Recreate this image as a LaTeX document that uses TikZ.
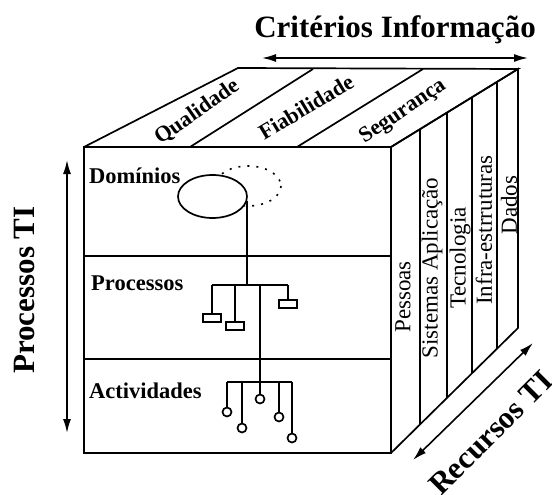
\documentclass[tikz,border=0pt]{standalone}
\usepackage{fontspec}
\setmainfont{Liberation Serif}
\usetikzlibrary{arrows.meta,calc,shapes.geometric}

\tikzset{
  edge/.style={line width=1.7pt},
  band/.style={line width=2.3pt},
  dbl/.style={line width=1.6pt, arrows={Latex[length=14pt,width=8pt]-Latex[length=14pt,width=8pt]}},
  lbl/.style={font=\bfseries\fontsize{22.5}{24}\selectfont, inner sep=0pt, anchor=west},
  big/.style={font=\bfseries\fontsize{31}{33}\selectfont, inner sep=0pt},
  toplbl/.style={font=\bfseries\fontsize{22}{24}\selectfont, inner sep=0pt},
  sidelbl/.style={font=\fontsize{23}{25}\selectfont, inner sep=0pt, rotate=90},
  procbox/.style={draw, fill=white, line width=2.8pt, minimum width=18pt, minimum height=8pt, inner sep=0pt},
  actnode/.style={draw, fill=white, circle, line width=1.7pt, minimum size=9pt, inner sep=0pt},
  domoval/.style={draw, fill=white, ellipse, line width=1.7pt, minimum width=69pt, minimum height=43pt, inner sep=0pt},
  ghost/.style={line width=1.6pt, dash pattern=on 2pt off 7pt}
}

\begin{document}
\begin{tikzpicture}[x=1pt,y=-1pt]
\useasboundingbox (0,0) rectangle (552,495);

% cube corners
\coordinate (FTL) at (84,147);
\coordinate (FTR) at (391,147);
\coordinate (FBL) at (84,453);
\coordinate (FBR) at (391,453);
\coordinate (BTL) at (238,68);
\coordinate (BTR) at (518,69);
\coordinate (BBR) at (518,328);

% top face
\draw[edge] (FTL) -- (BTL) -- (BTR) -- (FTR);
\coordinate (t1f) at (190,147); \coordinate (t1b) at (313,69);
\coordinate (t2f) at (297,147); \coordinate (t2b) at (423,69);
\draw[edge] (t1f) -- (t1b);
\draw[edge] (t2f) -- (t2b);

% front face
\draw[edge] (FTL) -- (FTR) -- (FBR) -- (FBL) -- cycle;
\draw[band] ($(FTL)!0.356!(FBL)$) -- ($(FTR)!0.356!(FBR)$);
\draw[band] ($(FTL)!0.693!(FBL)$) -- ($(FTR)!0.693!(FBR)$);

% right face
\draw[edge] (FTR) -- (BTR) -- (BBR) -- (FBR);
\foreach \t in {0.228,0.441,0.638,0.835}
  \draw[edge] ($(FTR)!\t!(BTR)$) -- ($(FBR)!\t!(BBR)$);

% axis arrows
\coordinate (ca1) at (262,58); \coordinate (ca2) at (528,58);
\draw[dbl] (ca1) -- (ca2);
\coordinate (pa1) at (67,160); \coordinate (pa2) at (67,433);
\draw[dbl] (pa1) -- (pa2);
\coordinate (ra1) at (413,460); \coordinate (ra2) at (533,343);
\draw[dbl] (ra1) -- (ra2);

% axis titles
\node[big] (crit) at (395,30) {Critérios Informação};
\node[big, rotate=90] (proc) at (25,290) {Processos TI};
\node[big, rotate=45] (recu) at (491,433) {Recursos TI};

% top face labels
\node[toplbl, rotate=35] (qual) at (197,112) {Qualidade};
\node[toplbl, rotate=31] (fiab) at (306,107) {Fiabilidade};
\node[toplbl, rotate=34] (segu) at (403,112) {Segurança};

% right face labels
\node[sidelbl] (pess) at (403,297) {Pessoas};
\node[sidelbl] (sist) at (432,268) {Sistemas Aplicação};
\node[sidelbl] (tecn) at (460,258) {Tecnologia};
\node[sidelbl] (infr) at (484,230) {Infra-estrruturas};
\node[sidelbl] (dado) at (509,205) {Dados};

% front face labels
\node[lbl] (ldom) at (89,176) {Domínios};
\node[lbl] (lpro) at (91,283) {Processos};
\node[lbl] (lact) at (89,391) {Actividades};

% domain ellipses
\draw[ghost] (248,186) ellipse [x radius=33, y radius=20];
\node[domoval] (dom) at (212.5,196.5) {};

% process tree
\coordinate (pL) at (212,285); \coordinate (pR) at (288,285);
\draw[edge] (pL) -- (pR);
\draw[edge] (dom.-8) -- (dom.-8 |- pL);
\node[procbox] (b1) at (212,318) {};
\node[procbox] (b2) at (235,326) {};
\node[procbox] (b3) at (288,304) {};
\coordinate (pb2) at (235,285);
\coordinate (pb3) at (260,285);
\draw[edge] (pL) -- (b1);
\draw[edge] (pb2) -- (b2);
\draw[edge] (pR) -- (b3);

% activity tree
\coordinate (aL) at (227,382); \coordinate (aR) at (292,382);
\coordinate (a2) at (242,382); \coordinate (a3) at (260,382); \coordinate (a4) at (279,382);
\draw[edge] (pb3) -- (a3);
\draw[edge] (aL) -- (aR);
\node[actnode] (c1) at (227,412) {};
\node[actnode] (c2) at (242,428) {};
\node[actnode] (c3) at (260,399) {};
\node[actnode] (c4) at (279,417) {};
\node[actnode] (c5) at (292,438) {};
\draw[edge] (aL) -- (c1);
\draw[edge] (a2) -- (c2);
\draw[edge] (a3) -- (c3);
\draw[edge] (a4) -- (c4);
\draw[edge] (aR) -- (c5);
\end{tikzpicture}
\end{document}
